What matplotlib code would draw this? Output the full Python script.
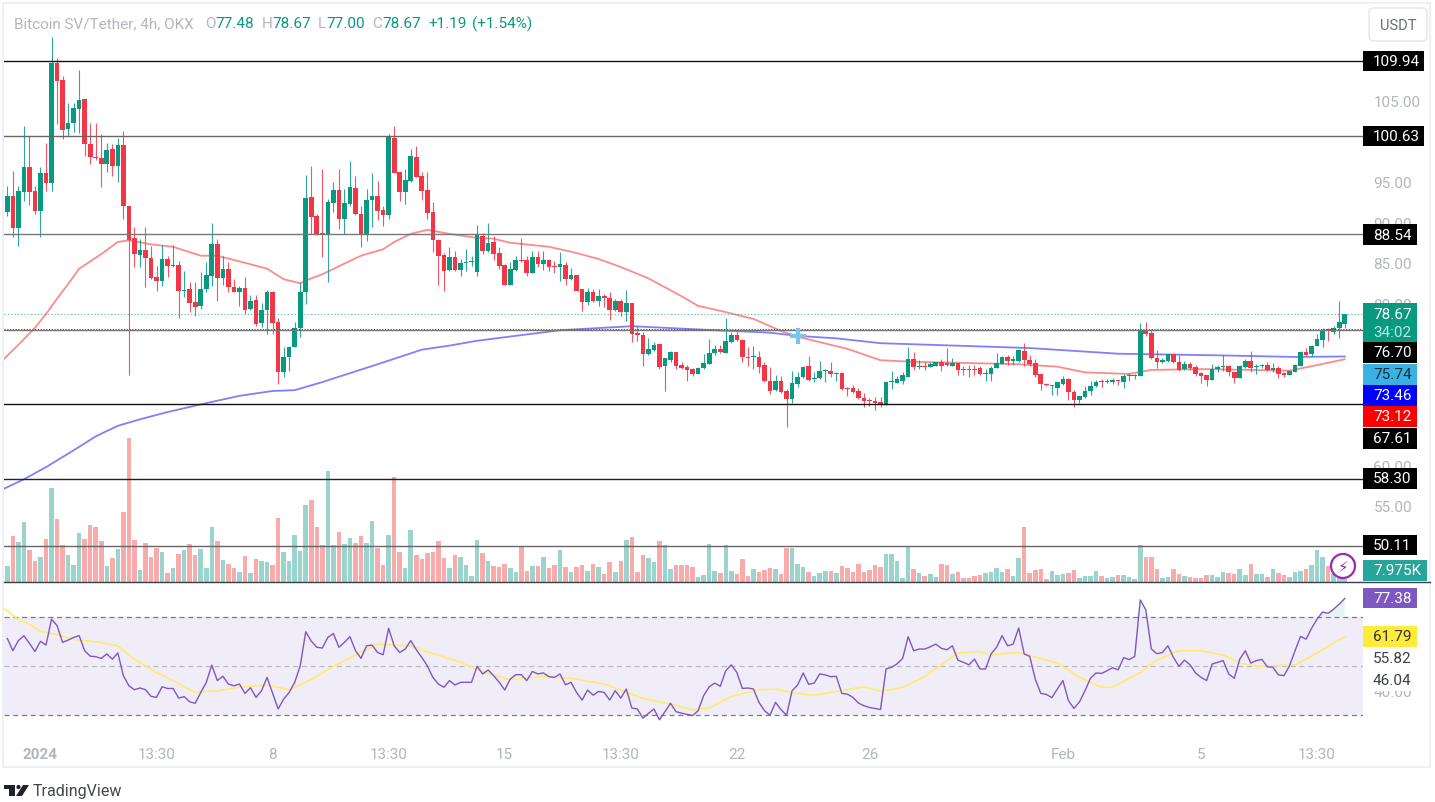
#!/usr/bin/env python3
"""Bitcoin SV/Tether 4h chart with volume, moving averages and RSI pane."""
import matplotlib
matplotlib.use("Agg")
import matplotlib.pyplot as plt
from matplotlib.patches import Circle, FancyBboxPatch, Polygon, Rectangle
import numpy as np

plt.rcParams["font.family"] = ["Roboto", "DejaVu Sans"]

opens = [
    91.25, 93.31, 89.28, 93.8, 96.81, 93.93, 91.42, 96.11, 94.87, 109.69,
    107.55, 101.54, 102.28, 104.01, 105.24, 99.73, 98.08, 97.92, 97.26, 99.07,
    97.01, 99.57, 91.99, 88.04, 85.99, 86.64, 85.57, 83.27, 82.78, 85.49,
    84.67, 84.75, 81.58, 81.79, 80.14, 79.73, 81.79, 83.43, 87.35, 83.1,
    84.26, 81.99, 81.38, 81.87, 79.32, 80.43, 77.55, 79.19, 81.46, 77.67,
    71.5, 73.35, 74.58, 76.93, 81.38, 93.1, 90.76, 88.7, 88.45, 92.4,
    93.97, 90.43, 92.32, 94.26, 91.05, 88.62, 92.78, 93.27, 91.5, 90.92,
    100.47, 96.19, 93.8, 95.16, 98.08, 95.74, 93.97, 91.25, 87.88, 85.99,
    84.17, 85.78, 84.17, 85.04, 85.08, 83.84, 88.37, 86.44, 87.55, 86.23,
    84.79, 82.32, 84.18, 85.37, 85.37, 83.76, 85.74, 84.92, 85.37, 84.59,
    84.5, 84.79, 83.02, 83.52, 81.79, 80.23, 81.38, 80.31, 80.88, 80.64,
    79.2, 80.35, 78.91, 80.06, 76.32, 76.11, 73.76, 74.3, 74.96, 72.32,
    73.06, 73.97, 72.41, 72.2, 71.91, 71.3, 72, 72.57, 73.85, 74.38,
    73.93, 75.2, 76.15, 75.53, 73.43, 73.35, 73.43, 72.41, 70.47, 69.32,
    70.43, 69.24, 68.21, 70.06, 70.88, 72.32, 70.68, 70.76, 71.63, 71.67,
    71.3, 71.42, 69.57, 69.57, 69.2, 68.37, 68.08, 67.96, 67.8, 67.51,
    70.27, 70.23, 70.47, 70.97, 73.15, 72.2, 72.32, 72.2, 72.32, 72.73,
    72.61, 72.32, 72.65, 71.91, 71.91, 71.91, 71.99, 71.33, 71.33, 72.03,
    72.57, 73.39, 72.86, 72.9, 74.17, 73.02, 72.65, 71.29, 70.1, 69.77,
    69.6, 70.02, 70.67, 69.07, 68.12, 68.41, 69.15, 69.77, 70.39, 70.3,
    70.3, 70.55, 70.35, 71.04, 71.04, 71.09, 76.77, 76.31, 73.27, 72.73,
    72.9, 73.72, 72.81, 71.91, 72.53, 72.16, 71.42, 71.17, 70.59, 71.91,
    72.16, 72.24, 71.5, 70.84, 72.16, 72.94, 72.2, 72.28, 72.4, 71.83,
    71.99, 71.42, 71.21, 71.58, 72.32, 73.97, 73.76, 74.79, 75.53, 76.85,
    76.44, 77.01, 77.48,
]
closes = [
    93.31, 89.28, 93.84, 96.81, 93.8, 91.42, 96.11, 94.87, 109.69, 107.47,
    101.38, 102.28, 104.09, 105.08, 99.65, 98.04, 97.92, 97.26, 98.99, 97.01,
    99.57, 91.99, 87.88, 86.07, 86.64, 85.57, 83.19, 82.78, 85.49, 84.59,
    84.75, 81.54, 81.71, 80.06, 79.61, 81.79, 83.52, 87.35, 83.1, 84.26,
    81.99, 81.46, 81.87, 79.24, 80.27, 77.47, 79.19, 81.37, 77.59, 71.5,
    73.43, 74.67, 76.93, 81.37, 92.98, 90.64, 88.58, 88.45, 92.49, 93.97,
    90.43, 92.4, 94.34, 91.05, 88.62, 92.78, 93.27, 91.42, 90.92, 100.72,
    96.11, 93.8, 95.2, 98.25, 95.57, 93.93, 91.17, 87.79, 85.9, 84.05,
    85.78, 84.17, 84.99, 85.08, 85.16, 88.58, 86.44, 87.47, 86.11, 84.67,
    82.32, 84.26, 85.37, 85.29, 83.76, 85.74, 84.92, 85.37, 84.5, 84.5,
    84.88, 83.02, 83.52, 81.58, 80.23, 81.38, 80.31, 80.88, 80.64, 79.2,
    80.35, 78.91, 80.02, 76.23, 76.07, 73.76, 74.38, 74.92, 72.2, 73.23,
    74.05, 72.32, 72.08, 71.83, 71.3, 72.04, 72.65, 73.93, 74.38, 73.97,
    75.41, 76.15, 75.53, 73.35, 73.31, 73.43, 72.2, 70.47, 69.24, 70.43,
    69.11, 68.21, 70.18, 70.97, 72.2, 70.6, 70.76, 71.67, 71.71, 71.3,
    71.42, 69.44, 69.48, 69.11, 68.29, 68, 68, 67.72, 67.51, 70.27,
    70.31, 70.68, 71.17, 73.15, 72.12, 72.32, 72.2, 72.53, 72.73, 72.32,
    72.36, 72.65, 71.83, 71.79, 71.74, 71.83, 71.33, 71.42, 72.07, 72.65,
    73.39, 72.86, 73.14, 74.21, 73.02, 72.53, 71.17, 70.02, 69.93, 69.85,
    70.26, 70.67, 69.03, 68.12, 68.53, 69.15, 69.77, 70.35, 70.26, 70.43,
    70.55, 70.43, 71.09, 71.17, 71.17, 76.77, 76.23, 73.23, 72.73, 73.02,
    73.72, 72.73, 71.83, 72.53, 71.99, 71.29, 71.09, 70.59, 71.91, 72.16,
    72.24, 71.5, 70.84, 72.24, 72.94, 72.07, 72.28, 72.4, 71.83, 72.07,
    71.33, 71.21, 71.66, 72.4, 74.05, 73.64, 74.79, 75.61, 76.77, 76.77,
    77.01, 77.67, 78.67,
]
highs = [
    94.55, 96.4, 94.55, 101.87, 100.72, 94.55, 96.81, 99.81, 112.86, 110.27,
    108.04, 104.75, 104.75, 108.82, 105.24, 102.28, 102.28, 100.92, 99.81, 99.69,
    100.47, 101.33, 91.99, 89.4, 87.96, 89.4, 87.14, 84.67, 87.22, 85.9,
    87.22, 85.29, 84.05, 82.69, 82.61, 83.84, 85.08, 89.94, 87.96, 85.9,
    85.08, 83.02, 82.2, 83.23, 81.05, 81.05, 80.06, 81.66, 81.54, 78.16,
    74.67, 74.79, 77.67, 82.61, 95.86, 97.01, 91, 96.6, 92.9, 94.96,
    96.6, 94.13, 97.55, 95.78, 92.07, 94.13, 96.11, 95.16, 92.07, 100.92,
    101.95, 96.27, 96.6, 99.07, 99.48, 96.27, 96.19, 92.49, 87.96, 86.23,
    86.93, 86.44, 85.49, 86.72, 85.9, 89.69, 88.66, 89.94, 88.29, 86.93,
    84.85, 85.08, 85.9, 88.04, 85.9, 86.52, 86.52, 86.52, 85.49, 85.29,
    86.4, 85.08, 84.34, 83.52, 81.79, 81.87, 81.79, 81.79, 81.13, 81.38,
    80.55, 80.55, 81.67, 80.06, 77.26, 76.44, 75.7, 75.29, 74.96, 73.23,
    74.18, 73.97, 72.82, 72.41, 72, 72.12, 73.76, 75.62, 74.88, 74.88,
    78.17, 76.52, 76.65, 75.62, 74.59, 74.71, 74.18, 72.82, 72.12, 71.17,
    71.09, 69.44, 71.67, 71.5, 72.32, 73.48, 71.5, 72.94, 71.91, 72.82,
    71.58, 71.5, 69.65, 69.94, 69.53, 68.95, 68.29, 68.41, 68.41, 70.47,
    71.67, 71.09, 71.5, 74.59, 73.97, 73.06, 72.74, 72.82, 72.81, 73.14,
    74.46, 73.27, 72.65, 72.24, 72.4, 72.4, 72.24, 71.91, 72.32, 73.88,
    73.47, 73.64, 73.47, 74.38, 75.08, 73.64, 73.14, 71.29, 70.18, 69.93,
    70.35, 71, 70.76, 69.36, 68.62, 69.85, 70.47, 70.55, 70.67, 70.67,
    70.76, 70.59, 71.29, 71.37, 71.29, 77.59, 77.67, 76.85, 74.3, 73.23,
    73.72, 73.72, 73.64, 72.94, 72.73, 72.4, 71.5, 71.17, 72.53, 72.4,
    73.64, 72.4, 71.58, 72.4, 73.14, 74.17, 72.53, 72.57, 72.73, 72.65,
    72.24, 71.5, 71.83, 72.53, 74.13, 74.46, 74.87, 76.23, 76.93, 77.01,
    77.18, 80.3, 78.67,
]
lows = [
    90.84, 88.17, 87.14, 92.69, 92.16, 91.05, 88.17, 93.93, 93.93, 102.16,
    100.31, 100.64, 101.13, 101.05, 98.25, 97.22, 97.75, 94.34, 96.19, 95.78,
    95.04, 90.43, 71.2, 84.54, 84.54, 81.99, 83.02, 81.58, 82.12, 83.31,
    84.46, 78.17, 80.8, 78.91, 78.49, 79.32, 81.38, 82.2, 80.35, 82.28,
    81.38, 81.38, 79.73, 78.7, 79.24, 77.26, 77.14, 76.23, 76.23, 70.06,
    70.96, 71.7, 74.58, 75.82, 79.93, 88.58, 88.4, 85.7, 82.69, 91.25,
    89.19, 88.58, 92.07, 90.92, 86.93, 87.75, 89.4, 90.35, 89.52, 90.43,
    96.11, 92.69, 92.28, 95.04, 95.57, 92.82, 90.43, 86.31, 82.28, 81.58,
    84.05, 84.05, 83.43, 84.05, 84.67, 83.43, 86.11, 86.3, 85.41, 84.26,
    82.32, 82.32, 84.05, 85.08, 83.43, 83.76, 84.46, 84.18, 84.05, 83.76,
    82.82, 82.32, 82.9, 81.58, 79.03, 79.81, 80.23, 79.73, 79.53, 78,
    79.11, 78.41, 77.88, 75.29, 75.41, 72.32, 73.64, 74.18, 71.91, 69.24,
    72.74, 71.91, 71.91, 70.47, 71.09, 71.25, 71.91, 72.53, 73.64, 73.89,
    73.89, 75.12, 75.41, 72.74, 72.24, 71.91, 71.42, 70.35, 68.83, 69.2,
    68.95, 64.71, 67.72, 69.65, 70.8, 70.47, 70.35, 70.68, 70.27, 70.88,
    70.47, 69.36, 68.54, 68.95, 68.21, 67.18, 67.39, 66.85, 67.18, 67.47,
    69.44, 70.18, 70.06, 70.97, 71.83, 71.91, 71.83, 72.12, 72.24, 71.7,
    72.24, 72.24, 71.17, 71.17, 70.88, 71.17, 71.17, 70.47, 70.47, 71.99,
    72.49, 72.4, 72.4, 72.81, 72.24, 72.32, 70.88, 69.32, 69.85, 68.7,
    68.7, 69.93, 68.12, 67.26, 67.67, 68.29, 68.74, 69.65, 69.65, 70.18,
    70.06, 69.93, 69.52, 70.47, 70.67, 71, 75.94, 73.14, 72.07, 72.65,
    72.81, 72.65, 71.7, 71.83, 71.83, 71.09, 70.18, 69.85, 70.55, 71.58,
    71.7, 71.09, 70.18, 70.76, 72.07, 71.58, 71.33, 71.99, 71.7, 71.5,
    70.84, 70.96, 71.17, 71.5, 72.24, 73.47, 73.47, 74.71, 74.58, 75.41,
    76.23, 75.69, 77,
]
volume = [
    10.6, 30.4, 26.6, 39.8, 21.1, 13.9, 16.7, 28.6, 62.3, 41.4,
    24.4, 18, 11.2, 32.6, 28.6, 37.4, 36.5, 27.1, 10.6, 15.8,
    22, 46.4, 95.3, 27.9, 7.9, 26, 16.7, 22.7, 20, 5.9,
    9.2, 18.7, 21.3, 25.3, 18, 22, 9.2, 36.5, 27.1, 14.7,
    12.1, 9.2, 6.6, 17.2, 5.9, 15.4, 14.1, 13.4, 11.2, 42,
    20, 14.1, 31.2, 20.7, 50.6, 53.9, 36.5, 24.4, 73.3, 24.4,
    33.2, 25.3, 29.3, 26, 30.6, 26, 40.5, 22.7, 11.2, 31.2,
    69.3, 20, 9.2, 34.5, 18, 15.4, 19.4, 20, 27.1, 16.1,
    9.2, 18, 16.7, 11.2, 4, 27.9, 19.4, 13.9, 10.6, 9.9,
    11.9, 9.2, 6.6, 23.1, 7, 10.6, 10.6, 16.7, 9.2, 11.2,
    21.3, 9.9, 6.6, 9.9, 11.2, 7.3, 11.7, 9.9, 5.3, 13.2,
    6.6, 13.9, 27.9, 29.9, 6.6, 18, 15.8, 13.2, 27.3, 24.4,
    8.6, 11.2, 11.4, 11.2, 9.9, 3.3, 4.6, 25.3, 7.3, 5.9,
    24.4, 7.3, 5.3, 15.4, 4, 8.6, 6.6, 7.9, 9.2, 8.6,
    5.3, 22.7, 22.7, 12.1, 9.9, 6.6, 4, 5.9, 7.3, 7.3,
    5.9, 10.6, 9.2, 6.6, 11.9, 6.6, 7.9, 11.2, 9.7, 18.5,
    18.5, 13.9, 2.6, 23.1, 8.6, 5.9, 4, 5.3, 3.3, 12.1,
    11.2, 5.5, 6.6, 2.6, 2.6, 4, 4.8, 6.2, 6.6, 9.5,
    6.6, 8.8, 4, 16.1, 36.5, 5.7, 7.9, 8.8, 2.2, 7.3,
    4.4, 5.3, 6.2, 7.9, 2.6, 4, 4, 7.3, 4, 2.6,
    3.3, 4.4, 4.4, 3.3, 1.8, 24.2, 16.7, 16.7, 8.8, 2.6,
    3.3, 8.4, 5.3, 4, 3.3, 2.6, 2.6, 4.6, 4.6, 3.3,
    6.6, 6.2, 5.1, 8.8, 4.8, 12.1, 5.3, 5.3, 3.5, 8.8,
    5.7, 4.8, 3.5, 6.6, 7, 8.8, 11.2, 21.3, 16.7, 10.6,
    5.3, 3.3, 1.8,
]
rsi = [
    61.2, 56.2, 60.3, 62.3, 59.2, 55.9, 60, 58.5, 69, 66.4,
    59.6, 60.5, 61.6, 62.3, 56.2, 54, 53.8, 53.1, 54.9, 52.8,
    55.3, 46.1, 42, 40.4, 41.1, 40.4, 37.7, 37.3, 41.6, 40.9,
    40.9, 37, 37.6, 35.5, 34.9, 39.3, 43.4, 50.4, 44.1, 45.9,
    42.7, 42, 42.7, 38.9, 41.2, 37.3, 40, 45.4, 39, 32.6,
    36.6, 39.3, 43.4, 50.1, 63.9, 60.1, 57.6, 57.3, 61.6, 63.2,
    57.6, 59.6, 61.9, 56.2, 53.1, 58.2, 58.5, 55.5, 54.6, 65.3,
    58.2, 55.5, 56.9, 60.3, 56.6, 53.5, 50.1, 45.4, 42.7, 41.4,
    44.1, 42.3, 43.4, 43.4, 43.4, 49.9, 46.8, 48.4, 46.1, 43.4,
    40.3, 44.7, 46.5, 46.5, 44.1, 47.8, 46.8, 47.2, 45.7, 45.4,
    46.8, 42.4, 43.4, 39.3, 36.2, 40.3, 38.2, 39.7, 39.3, 36.2,
    40, 37, 40.7, 33, 32.6, 28.9, 30.8, 32.6, 28.2, 31.5,
    34.9, 31.5, 30.9, 30.4, 29.9, 31.9, 38, 41.6, 43.1, 41.8,
    48.1, 50.5, 47.4, 40.9, 41.1, 40.7, 35.3, 31.9, 30.1, 35.3,
    32.3, 30.1, 40, 42.3, 47.2, 42.6, 43.1, 46.8, 46.4, 45.7,
    45.8, 38.9, 38.6, 37.3, 35, 33.9, 33.2, 32.8, 32.4, 48.8,
    49.5, 50.9, 53.1, 61.9, 56.2, 56.9, 56.9, 57.8, 58.9, 57.2,
    56.6, 58.2, 52.4, 51.5, 50.5, 52.8, 48.8, 48.8, 54.9, 57.6,
    62.3, 58.2, 58.9, 65.4, 54.9, 53.9, 44.7, 38.9, 38.5, 37.2,
    40.7, 44.1, 36, 32.8, 35.5, 40, 45.1, 47.2, 47, 48.1,
    49.3, 48.5, 53.4, 52.6, 53.9, 76.8, 72.8, 56.9, 55, 55.5,
    58.2, 53.5, 49.9, 52.4, 50.5, 47.2, 45.4, 44.1, 50.8, 51.5,
    52.2, 46.8, 45, 52.8, 56.2, 51.2, 52.2, 52.7, 49.7, 49.5,
    46.4, 46.1, 50.1, 56.2, 62, 60.9, 65.3, 69.1, 71.9, 71.4,
    73.1, 75.1, 77.38,
]

# moving averages read at their turning points
rsi_ma_idx = [-1, 0, 2, 4, 6, 9, 12, 16, 20, 23, 27, 30, 34, 38, 42, 47, 51, 55, 59, 63, 67,
              73, 76, 82, 87, 91, 97, 103, 108, 115, 120, 124, 127, 131, 136, 139, 142,
              146, 150, 155, 158, 162, 166, 170, 172, 176, 178, 183, 190, 194, 198, 200,
              205, 208, 212, 216, 220, 223, 226, 233, 237, 240, 242]
rsi_ma = [73.8, 72.4, 68.8, 67, 64.1, 62.7, 60.8, 59.9, 58.2, 52.7, 47.4, 44.1, 39.3, 40, 41.4,
          42.3, 40.4, 44.5, 49.9, 54.5, 58.9, 58.2, 55.8, 51.5, 46.8, 44.5, 45.8, 44.7,
          42.7, 36.9, 34.6, 32.2, 33, 37.7, 40.3, 40.7, 39.1, 38.2, 39.7, 41.6, 39.7,
          41.4, 45.8, 52.2, 55.3, 55.9, 54.5, 55.5, 51.2, 45.4, 41.4, 41.4, 47.4, 52.4,
          56.2, 56.2, 54.5, 51.2, 49.9, 50.4, 55.3, 59.3, 61.79]
red_ma_idx = [-1, 2, 5, 7, 9, 11, 13, 15, 17, 20, 22, 26, 30, 35, 38, 42, 47, 50, 53, 55, 57,
              60, 64, 68, 70, 73, 76, 80, 85, 88, 91, 98, 102, 107, 111, 116, 122, 125, 129,
              135, 140, 143, 152, 158, 164, 171, 183, 190, 195, 203, 207, 216, 225, 232, 237, 242]
red_ma = [72.9, 74.9, 77, 78.7, 80.6, 82.4, 84.3, 85.2, 86.1, 87.6, 87.8, 87.3, 87, 85.9, 85.9,
          85.2, 84.3, 83, 82.5, 83.1, 83.6, 84.6, 85.9, 86.7, 87.6, 88.6, 89.1, 88.6, 88.1,
          88, 87.5, 87, 86.4, 85.5, 84.5, 83.1, 80.9, 79.7, 79.1, 78.1, 76.6, 75.9, 74.4, 73,
          72.8, 72.7, 72.5, 72.2, 71.5, 71.3, 71.8, 71.9, 71.8, 71.7, 72.4, 73.12]
blue_ma_idx = [-1, 3, 7, 13, 16, 20, 24, 29, 36, 42, 48, 52, 57, 67, 75, 80, 85, 100, 113, 128,
               138, 143, 150, 158, 167, 185, 201, 219, 233, 242]
blue_ma = [57, 58.3, 59.8, 62.3, 63.6, 64.9, 65.7, 66.6, 67.7, 68.6, 69.2, 69.3, 70.3, 72.5,
           74.3, 74.8, 75.4, 76.7, 77.2, 76.7, 76.4, 76, 75.7, 75.1, 74.9, 74.5, 73.8, 73.6,
           73.4, 73.46]

levels = [109.94, 100.63, 88.54, 76.70, 67.61, 58.30, 50.11]
level_colors = ["#111111", "#666666", "#777777", "#777777", "#111111", "#222222", "#666666"]
price_ticks = [105, 95, 90, 85, 80, 60, 55]
time_tick_idx = [6, 27, 48, 69, 90, 111, 132, 156, 191, 216, 237]
time_tick_labels = ["2024", "13:30", "8", "13:30", "15", "13:30", "22", "26", "Feb", "5", "13:30"]

GREEN = "#089981"
RED = "#f23645"
GRAY = "#b2b5be"
W, H = 1435, 803
LEFT, SPLIT, BOTTOM_PANE, AXIS_R = 4, 583, 740, 1363
FONT = 11


def rect(y0, y1):
    return [LEFT / W, 1 - y1 / H, (AXIS_R - LEFT) / W, (y1 - y0) / H]


fig = plt.figure(figsize=(W / 100, H / 100), dpi=100, facecolor="white")

x = np.arange(len(closes))
o, c, hi, lo = map(np.array, (opens, closes, highs, lows))
up = c >= o
colors = np.where(up, GREEN, RED)
xlim = (-0.6, 245.3)

# volume behind the price pane
ax_vol = fig.add_axes(rect(4, SPLIT))
ax_vol.bar(x, volume, width=0.82, color=np.where(up, "#9ad4cc", "#f9aaaa"), linewidth=0)
ax_vol.set_xlim(xlim)
ax_vol.set_ylim(0, 382)
ax_vol.axis("off")

ax = fig.add_axes(rect(4, SPLIT), sharex=None)
ax.patch.set_alpha(0)
ax.plot(red_ma_idx, red_ma, color="#fb8c8c", lw=1.3, zorder=2)
ax.plot(blue_ma_idx, blue_ma, color="#8080fb", lw=1.3, zorder=2)
ax.vlines(x, lo, hi, colors=colors, lw=0.8, zorder=3, alpha=0.85)
heights = np.maximum(np.abs(c - o), 0.14)
ax.bar(x, heights, bottom=np.minimum(o, c), width=0.84, color=colors, linewidth=0, zorder=4)
for lvl, col in zip(levels, level_colors):
    ax.axhline(lvl, color=col, lw=1.0, zorder=5)
ax.axhline(closes[-1], color=GREEN, lw=0.8, ls=(0, (1, 2)), alpha=0.7, zorder=5)
ax.axhline(76.88, color="#555555", lw=0.8, ls=(0, (1, 1.5)), zorder=5)
ax.plot([143], [76], marker="+", ms=11, mew=3, color="#7cc4ec", zorder=6)
ax.set_xlim(xlim)
ax.set_ylim(105 - (SPLIT - 102) / 8.1, 105 + 98 / 8.1)
ax.yaxis.tick_right()
ax.set_yticks(price_ticks)
ax.set_yticklabels([f"{t:.2f}" for t in price_ticks], color=GRAY, fontsize=FONT)
ax.tick_params(axis="y", length=0, pad=7.5)
ax.set_xticks([])
for s in ax.spines.values():
    s.set_visible(False)

# RSI pane
ax_rsi = fig.add_axes(rect(SPLIT, BOTTOM_PANE))
rsi_arr = np.array(rsi)
ax_rsi.axhspan(30, 70, color="#7e57c2", alpha=0.1, lw=0)
ax_rsi.fill_between(x, rsi_arr, 70, where=rsi_arr > 70, interpolate=True, color=GREEN, alpha=0.1, lw=0)
ax_rsi.fill_between(x, rsi_arr, 30, where=rsi_arr < 30, interpolate=True, color=RED, alpha=0.1, lw=0)
ax_rsi.axhline(70, color="#787b86", lw=0.9, ls=(0, (4, 3)))
ax_rsi.axhline(50, color="#b9bac2", lw=0.9, ls=(0, (4, 3)))
ax_rsi.axhline(30, color="#787b86", lw=0.9, ls=(0, (4, 3)))
ax_rsi.plot(rsi_ma_idx, rsi_ma, color="#fdec6e", lw=1.2)
ax_rsi.plot(x, rsi_arr, color="#7e57c2", lw=1.0)
ax_rsi.set_xlim(xlim)
ax_rsi.set_ylim(70 - (BOTTOM_PANE - 617.7) / 2.467, 70 + (617.7 - SPLIT) / 2.467)
ax_rsi.yaxis.tick_right()
ax_rsi.set_yticks([40])
ax_rsi.set_yticklabels(["40.00"], color=GRAY, fontsize=FONT)
ax_rsi.set_xticks(time_tick_idx)
ax_rsi.set_xticklabels(time_tick_labels, color=GRAY, fontsize=FONT)
ax_rsi.get_xticklabels()[0].set_fontweight("bold")
ax_rsi.tick_params(axis="y", length=0, pad=7.5)
ax_rsi.tick_params(axis="x", length=0, pad=6)
for s in ax_rsi.spines.values():
    s.set_visible(False)

# overlay in pixel coordinates for the frame, price tags and header
ov = fig.add_axes([0, 0, 1, 1], zorder=10)
ov.patch.set_alpha(0)
ov.set_xlim(0, W)
ov.set_ylim(H, 0)
ov.axis("off")

ov.add_patch(Rectangle((3, 4), 1427, 764, fill=False, ec="#eef0f7", lw=1.5))
ov.plot([4, 1430], [SPLIT, SPLIT], color="#3a3e4a", lw=1.0)


def tag(text, y0, y1, bg, fg="white", x1=1417, x0=1363):
    ov.add_patch(Rectangle((x0, y0), x1 - x0, y1 - y0, fc=bg, ec="none"))
    ov.text(1373, (y0 + y1) / 2, text, color=fg, fontsize=FONT, ha="left", va="center")


tag("109.94", 52, 72, "black", x1=1424)
tag("100.63", 127, 147, "black", x1=1424)
tag("88.54", 225, 246, "black")
ov.add_patch(Rectangle((1363, 304), 54, 39, fc=GREEN, ec="none"))
ov.text(1373, 315, "78.67", color="white", fontsize=FONT, va="center")
ov.text(1373, 333, "34:02", color="#bfe6df", fontsize=FONT, va="center")
tag("76.70", 343, 364, "black")
tag("75.74", 365, 386, "#3bb0e3", fg="#12323f")
tag("73.46", 386, 407, "#0000ff")
tag("73.12", 407, 428, "#ff0000")
tag("67.61", 429, 450, "black")
tag("58.30", 469, 490, "black")
tag("50.11", 536, 556, "black")
tag("7.975K", 561, 582, "#26a69a", x1=1427)
tag("77.38", 589, 609, "#7e57c2")
tag("61.79", 627, 648, "#ffeb3b", fg="#333333")
tag("55.82", 649, 670, "white", fg="#3a3e4a")
tag("46.04", 671, 692, "white", fg="#3a3e4a")

# USDT button
ov.add_patch(FancyBboxPatch((1369, 9), 58, 33, boxstyle="round,pad=0,rounding_size=5",
                            fc="white", ec="#e3e5ec", lw=1.0))
ov.text(1398, 26, "USDT", color="#6a6d78", fontsize=10.5, ha="center", va="center")

# header line
ov.text(14, 24.5, "Bitcoin SV/Tether, 4h, OKX", color=GRAY, fontsize=FONT, va="center")
header = [(205, "O", GRAY), (215, "77.48", GREEN), (262, "H", GRAY), (272, "78.67", GREEN),
          (318, "L", GRAY), (326, "77.00", GREEN), (372, "C", GRAY), (382, "78.67", GREEN),
          (428, "+1.19", GREEN), (472, "(+1.54%)", GREEN)]
for hx, txt, col in header:
    ov.text(hx, 24.5, txt, color=col, fontsize=FONT, va="center")

# volume flash badge
ov.add_patch(Circle((1343, 567), 12, fc="white", ec="#9c27b0", lw=1.6))
ov.text(1343, 567, "\u26a1", color="#9c27b0", fontsize=11, ha="center", va="center",
        family="DejaVu Sans")

# TradingView logo
ov.add_patch(Polygon([(4, 786), (15, 786), (15, 797), (9, 797), (9, 790), (4, 790)], fc="#1e222d", ec="none"))
ov.add_patch(Circle((18.5, 788), 2.1, fc="#1e222d", ec="none"))
ov.add_patch(Polygon([(23, 786), (29, 786), (22, 797), (16, 797)], fc="#1e222d", ec="none"))
ov.text(33, 792, "TradingView", color="#434651", fontsize=11.5, va="center")

fig.savefig("out.png", dpi=100)
plt.close(fig)
